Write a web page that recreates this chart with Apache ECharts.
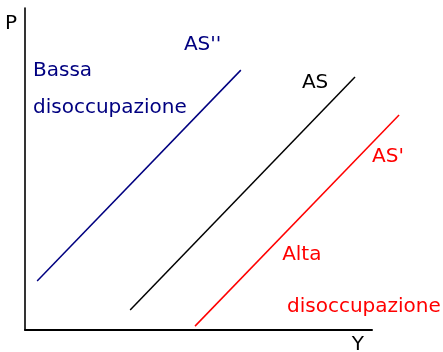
<!DOCTYPE html>
<html>
<head>
<meta charset="utf-8">
<script src="https://cdn.jsdelivr.net/npm/echarts@6/dist/echarts.min.js"></script>
<style>html,body{margin:0;padding:0;background:#fff}#c{width:443px;height:352px}</style>
</head>
<body>
<div id="c"></div>
<script>
// Curve endpoints (abstract units, origin at axes corner; axes span 0..100)
const asLow = [[3.5, 15.2], [62.2, 80.7]];     // AS''  (bassa disoccupazione)
const asMid = [[30.3, 6.2], [95.1, 78.6]];     // AS
const asHigh = [[49.0, 1.2], [107.8, 66.8]];   // AS'   (alta disoccupazione)
// Text labels
const labelTexts = ["AS''", "Bassa", "disoccupazione", "AS", "AS'", "Alta", "disoccupazione"];
const labelColors = ["#000080", "#000080", "#000080", "#000000", "#ff0000", "#ff0000", "#ff0000"];
const labelAnchors = [[45.8, 89.0], [2.3, 81.1], [2.3, 69.6], [79.8, 77.2], [100.0, 54.3], [74.1, 23.8], [75.5, 7.8]];
const axisNameX = "Y";
const axisNameY = "P";

const chart = echarts.init(document.getElementById('c'), null, {renderer: 'canvas'});
const font = 'DejaVu Sans';
const labelData = labelTexts.map((t, i) => ({
  value: [labelAnchors[i][0], labelAnchors[i][1]],
  name: t,
  label: {color: labelColors[i]}
}));
const hidden = {axisLine: {show: false}, axisTick: {show: false}, axisLabel: {show: false}, splitLine: {show: false}};
chart.setOption({
  animation: false,
  backgroundColor: '#ffffff',
  grid: [
    {left: 25, right: 71, top: 8, bottom: 22, containLabel: false, outerBoundsMode: 'none'},
    {left: 25, right: 36.3, top: 8, bottom: 22, containLabel: false, outerBoundsMode: 'none'}
  ],
  xAxis: [
    {
      gridIndex: 0, type: 'value', min: 0, max: 100,
      name: axisNameX, nameLocation: 'end', nameGap: 0,
      nameTextStyle: {fontFamily: font, fontSize: 20, color: '#000', align: 'right', verticalAlign: 'top', padding: [5, 8, 0, 0]},
      axisLine: {show: true, onZero: false, lineStyle: {color: '#000', width: 2}},
      axisTick: {show: false}, axisLabel: {show: false}, splitLine: {show: false}
    },
    Object.assign({gridIndex: 1, type: 'value', min: 0, max: 110}, hidden)
  ],
  yAxis: [
    {
      gridIndex: 0, type: 'value', min: 0, max: 100,
      name: axisNameY, nameLocation: 'end', nameGap: 0,
      nameTextStyle: {fontFamily: font, fontSize: 20, color: '#000', align: 'right', verticalAlign: 'top', padding: [6, 8, 0, 0]},
      axisLine: {show: true, onZero: false, lineStyle: {color: '#000', width: 1.6}},
      axisTick: {show: false}, axisLabel: {show: false}, splitLine: {show: false}
    },
    Object.assign({gridIndex: 1, type: 'value', min: 0, max: 100}, hidden)
  ],
  series: [
    {type: 'line', name: "AS''", xAxisIndex: 1, yAxisIndex: 1, data: asLow, symbol: 'none', clip: false, lineStyle: {color: '#000080', width: 1.5}},
    {type: 'line', name: 'AS', xAxisIndex: 1, yAxisIndex: 1, data: asMid, symbol: 'none', clip: false, lineStyle: {color: '#000000', width: 1.5}},
    {type: 'line', name: "AS'", xAxisIndex: 1, yAxisIndex: 1, data: asHigh, symbol: 'none', clip: false, lineStyle: {color: '#ff0000', width: 1.5}},
    {
      type: 'scatter', xAxisIndex: 1, yAxisIndex: 1, data: labelData, symbolSize: 0, clip: false, silent: true,
      itemStyle: {opacity: 1},
      label: {show: true, position: 'right', distance: 0, offset: [0, 1.5], formatter: p => p.name, fontFamily: font, fontSize: 20, opacity: 1}
    }
  ]
});
</script>
</body>
</html>
